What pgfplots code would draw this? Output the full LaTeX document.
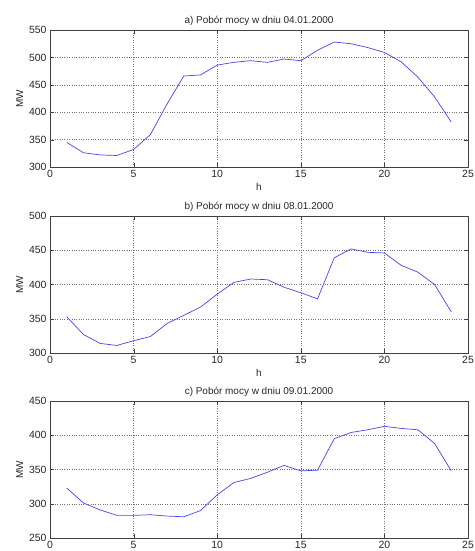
\documentclass[border=0pt]{standalone}
\usepackage{pgfplots}
\pgfplotsset{compat=1.18}
\usepackage{fontspec}
\setmainfont{Liberation Sans}
\definecolor{mline}{RGB}{70,70,235}

\pgfplotstableread{
h  a   b   c
1  345 353 323
2  326 327 301
3  322 314 291
4  321 311 283
5  332 318 283
6  359 324 284
7  415 343 282
8  466 355 281
9  468 367 290
10 486 386 313
11 491 403 331
12 494 408 337
13 491 407 346
14 497 396 356
15 494 388 348
16 513 379 349
17 528 439 395
18 525 452 404
19 518 447 408
20 509 446 413
21 492 428 410
22 464 418 408
23 428 400 388
24 382 360 348
}\loadtab

\pgfplotsset{
  mplot/.style={
    scale only axis,
    width=418bp, height=137bp,
    anchor=north west,
    xmin=0, xmax=25,
    xtick={0,5,...,25},
    tick align=inside,
    major tick length=4bp,
    grid=major,
    grid style={black!55, dotted, line width=0.4pt},
    axis line style={black!75, line width=0.5pt},
    tick style={black!75},
    every tick label/.append style={font=\fontsize{10.5}{11}\selectfont, text=black!85},
    /pgf/number format/assume math mode=true,
    label style={font=\fontsize{10}{11}\selectfont, text=black!85},
    title style={font=\fontsize{10}{11}\selectfont, text=black!85, yshift=-5bp},
    ylabel={MW},
    xlabel style={yshift=1bp},
    ylabel style={yshift=-1bp},
  },
  mline/.style={color=mline, line width=0.7pt, no marks},
}

\begin{document}
\begin{tikzpicture}
\path[use as bounding box] (-50bp,30bp) rectangle (425bp,-521bp);

\begin{axis}[mplot, at={(0bp,0bp)},
  ymin=300, ymax=550, ytick={300,350,...,550}, xlabel={h},
  title={a) Pobór mocy w dniu 04.01.2000}]
\addplot[mline] table[x=h, y=a] {\loadtab};
\end{axis}

\begin{axis}[mplot, at={(0bp,-186bp)},
  ymin=300, ymax=500, ytick={300,350,...,500}, xlabel={h},
  title={b) Pobór mocy w dniu 08.01.2000}]
\addplot[mline] table[x=h, y=b] {\loadtab};
\end{axis}

\begin{axis}[mplot, at={(0bp,-371bp)},
  ymin=250, ymax=450, ytick={250,300,...,450},
  title={c) Pobór mocy w dniu 09.01.2000}]
\addplot[mline] table[x=h, y=c] {\loadtab};
\end{axis}
\end{tikzpicture}
\end{document}
